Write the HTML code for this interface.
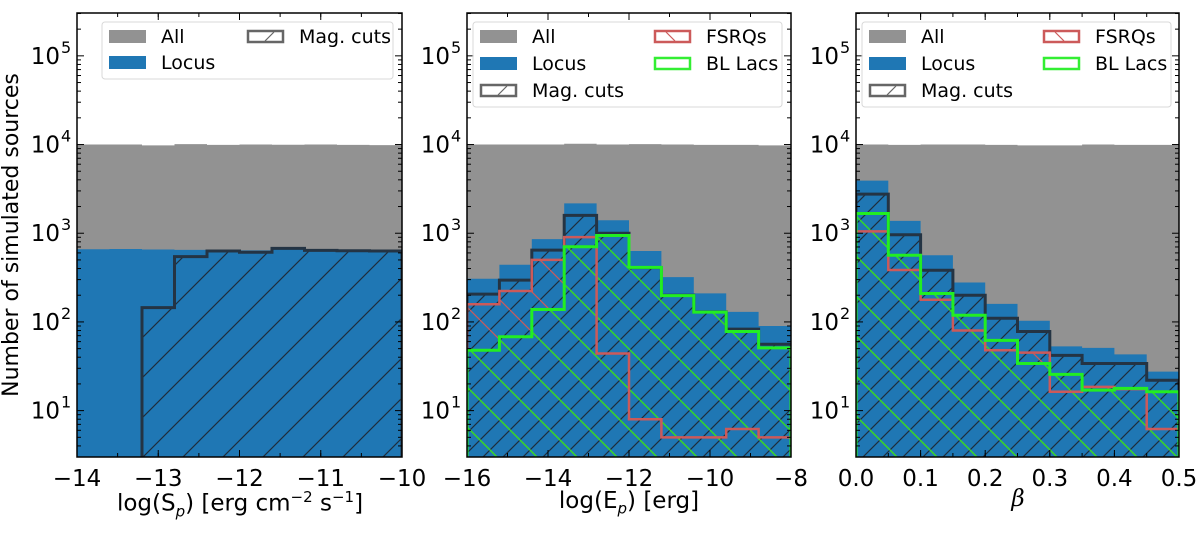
<!DOCTYPE html>
<html><head><meta charset="utf-8">
<style>
html,body{margin:0;padding:0;background:#fff;}
svg{display:block;font-family:"DejaVu Sans","Liberation Sans",sans-serif;}
.xt{position:absolute;width:400px;text-align:center;white-space:nowrap;font-size:23px;}
</style></head>
<body>
<svg id="chart" width="1200" height="536" viewBox="0 0 1200 536" xmlns="http://www.w3.org/2000/svg">
<defs>
  <pattern id="hatchFwd40" patternUnits="userSpaceOnUse" width="40" height="40">
    <path d="M-10,10 L10,-10 M0,40 L40,0 M30,50 L50,30" stroke="#1e2d3c" stroke-width="1.2"/>
  </pattern>
  <pattern id="hatchFwd20" patternUnits="userSpaceOnUse" width="20" height="20">
    <path d="M-5,5 L5,-5 M0,20 L20,0 M15,25 L25,15" stroke="#1e2d3c" stroke-width="1.2"/>
  </pattern>
  <pattern id="hatchBackRed" patternUnits="userSpaceOnUse" width="40" height="40">
    <path d="M-10,30 L10,50 M0,0 L40,40 M30,-10 L50,10" stroke="#cc5a5a" stroke-width="1.2"/>
  </pattern>
  <pattern id="hatchBackGreen" patternUnits="userSpaceOnUse" width="40" height="40">
    <path d="M-10,30 L10,50 M0,0 L40,40 M30,-10 L50,10" stroke="#33dd22" stroke-width="1.4"/>
  </pattern>
</defs>
</svg>
<script>
// ---- Panel 1 data: log(Sp) ----
const p1Edges = [-14,-13.6,-13.2,-12.8,-12.4,-12,-11.6,-11.2,-10.8,-10.4,-10];
const p1All =   [10000,10000,9800,10100,9900,10000,9950,10000,9900,9850];
const p1Locus = [660,665,655,650,640,640,680,650,645,640];
const p1Mag =   [0,0,145,545,630,610,675,640,635,630];

// ---- Panel 2 data: log(Ep) ----
const p2Edges = [-16,-15.2,-14.4,-13.6,-12.8,-12,-11.2,-10.4,-9.6,-8.8,-8];
const p2All =   [10000,10000,10000,10200,10000,10100,10000,9900,9900,9800];
const p2Locus = [307,441,859,2170,1400,630,320,210,130,90];
const p2Mag =   [206,296,646,1590,1000,410,200,130,83,56];
const p2Fsrq =  [158,223,500,903,44,8,5,5,6.2,5];
const p2Bllac = [48,68,138,705,942,412,198,129,78,51];

// ---- Panel 3 data: beta ----
const p3Edges = [0,0.05,0.1,0.15,0.2,0.25,0.3,0.35,0.4,0.45,0.5];
const p3All =   [10000,9900,10000,10000,9900,9800,9800,10000,9900,9900];
const p3Locus = [3920,1380,565,278,160,103,53,51,43,27.5];
const p3Mag =   [2760,960,383,200,110,78,42,34,34,22];
const p3Fsrq =  [1050,385,178,80,48,45,16.3,18.5,17.5,6.2];
const p3Bllac = [1670,565,209,119,62,34,25.6,17,17.8,16.3];

const yTickExp = [1,2,3,4,5];
const p1XTicks = [-14,-13,-12,-11,-10];
const p2XTicks = [-16,-14,-12,-10,-8];
const p3XTicks = [0.0,0.1,0.2,0.3,0.4,0.5];

const NS = 'http://www.w3.org/2000/svg';
const svg = document.getElementById('chart');
function mk(tag, attrs, parent){
  const e = document.createElementNS(NS, tag);
  for (const k in attrs) e.setAttribute(k, attrs[k]);
  (parent||svg).appendChild(e);
  return e;
}
const TOP=13, BOT=457;
const LOGMIN = Math.log10(3), LOGMAX = 5.483;
function yScale(v){ const l=Math.log10(Math.max(v,1e-3)); return BOT - (l-LOGMIN)/(LOGMAX-LOGMIN)*(BOT-TOP); }

function stepPath(edges, vals, xs, closed){
  let d='';
  const base = BOT+5;
  for(let i=0;i<vals.length;i++){
    const x0=xs(edges[i]), x1=xs(edges[i+1]);
    const y = vals[i]>0 ? yScale(vals[i]) : base;
    if(i===0) d += 'M'+x0+','+(closed?base:y)+' L'+x0+','+y;
    else d += ' L'+x0+','+y;
    d += ' L'+x1+','+y;
  }
  if(closed) d += ' L'+xs(edges[edges.length-1])+','+base+' Z';
  return d;
}

function panel(id, L, R, edges, xTicks, xMinorStep, xFmt, series){
  const g = mk('g', {});
  
  
  const xmin=edges[0], xmax=edges[edges.length-1];
  const xs = v => L + (v-xmin)/(xmax-xmin)*(R-L);
  const cid = id+'-clip';
  const cp = mk('clipPath', {id:cid}, g);
  mk('rect', {x:L, y:TOP, width:R-L, height:BOT-TOP}, cp);
  const plot = mk('g', {'clip-path':'url(#'+cid+')'}, g);
  
  
  const pa = mk('path', {d:stepPath(edges, series.all, xs, true), fill:'#929292'}, plot);
  
  
  const pl = mk('path', {d:stepPath(edges, series.locus, xs, true), fill:'#1f77b4'}, plot);
  
  
  const ph = mk('path', {d:stepPath(edges, series.mag, xs, true), fill:'url(#'+series.magHatch+')'}, plot);
  
  
  if(series.fsrq){
    const pr = mk('path', {d:stepPath(edges, series.fsrq, xs, true), fill:'url(#hatchBackRed)'}, plot);
    
    
    const pg = mk('path', {d:stepPath(edges, series.bllac, xs, true), fill:'url(#hatchBackGreen)'}, plot);
    
    
  }
  const po = mk('path', {d:stepPath(edges, series.mag, xs, true), fill:'none', stroke:'#243444', 'stroke-width':3}, plot);
  
  
  if(series.fsrq){
    const ro = mk('path', {d:stepPath(edges, series.fsrq, xs, true), fill:'none', stroke:'#cc5a5a', 'stroke-width':2.5}, plot);
    
    
    const go = mk('path', {d:stepPath(edges, series.bllac, xs, true), fill:'none', stroke:'#22ee22', 'stroke-width':3}, plot);
    
    
  }
  for(let e=0;e<=5;e++){
    for(let m=1;m<10;m++){
      const v=m*Math.pow(10,e);
      const y=yScale(v);
      if(y<TOP-0.5||y>BOT+0.5) continue;
      const len = m===1?7:4;
      mk('line',{x1:L,x2:L+len,y1:y,y2:y,stroke:'#000','stroke-width':1},g);
      mk('line',{x1:R,x2:R-len,y1:y,y2:y,stroke:'#000','stroke-width':1},g);
    }
  }
  yTickExp.forEach(e=>{
    const y=yScale(Math.pow(10,e));
    const t=mk('text',{x:L-17,y:y+8,'font-size':23,'text-anchor':'end',fill:'#000'},g);
    t.textContent='10';
    
    
    const s=mk('text',{x:L-16,y:y-3,'font-size':16,'text-anchor':'start',fill:'#000'},g);
    s.textContent=String(e);
  });
  const nMin = Math.round((xmax-xmin)/xMinorStep);
  for(let i=0;i<=nMin;i++){
    const x=xs(xmin+i*xMinorStep);
    mk('line',{x1:x,x2:x,y1:BOT,y2:BOT-4,stroke:'#000','stroke-width':1},g);
    mk('line',{x1:x,x2:x,y1:TOP,y2:TOP+4,stroke:'#000','stroke-width':1},g);
  }
  xTicks.forEach(v=>{
    const x=xs(v);
    mk('line',{x1:x,x2:x,y1:BOT,y2:BOT-7,stroke:'#000','stroke-width':1},g);
    mk('line',{x1:x,x2:x,y1:TOP,y2:TOP+7,stroke:'#000','stroke-width':1},g);
    const t=mk('text',{x:x,y:BOT+29,'font-size':23,'text-anchor':'middle',fill:'#000'},g);
    t.textContent=xFmt(v);
    
    
  });
  const fr = mk('rect',{x:L,y:TOP,width:R-L,height:BOT-TOP,fill:'none',stroke:'#000','stroke-width':1.5},g);
  
  
  return g;
}
const fmtNeg = v => (v<0?'\u2212':'')+Math.abs(v);
panel('panel-sp', 77, 402, p1Edges, p1XTicks, 0.5, fmtNeg, {all:p1All,locus:p1Locus,mag:p1Mag,magHatch:'hatchFwd40'});
panel('panel-ep', 467, 791, p2Edges, p2XTicks, 1, fmtNeg, {all:p2All,locus:p2Locus,mag:p2Mag,magHatch:'hatchFwd20',fsrq:p2Fsrq,bllac:p2Bllac});
panel('panel-beta', 856, 1179, p3Edges, p3XTicks, 0.05, v=>v.toFixed(1), {all:p3All,locus:p3Locus,mag:p3Mag,magHatch:'hatchFwd20',fsrq:p3Fsrq,bllac:p3Bllac});

function legend(name, x, y, w, h, entries){
  const g=mk('g',{});
  
  
  mk('rect',{x:x,y:y,width:w,height:h,rx:3,fill:'#fff','fill-opacity':0.85,stroke:'#d8d8d8','stroke-width':1},g);
  entries.forEach(en=>{
    const eg=mk('g',{},g);
    
    
    if(en.type==='fill') mk('rect',{x:en.x,y:en.y-6,width:37,height:13,fill:en.color},eg);
    else {
      mk('rect',{x:en.x+1,y:en.y-5,width:35,height:11,fill:'#fff',stroke:en.color,'stroke-width':2.5},eg);
      if(en.diag==='/') mk('line',{x1:en.x+18,y1:en.y+5,x2:en.x+27,y2:en.y-4,stroke:en.color,'stroke-width':1.2},eg);
      if(en.diag==='\\') mk('line',{x1:en.x+12,y1:en.y-4,x2:en.x+21,y2:en.y+5,stroke:en.color,'stroke-width':1.2},eg);
    }
    const t=mk('text',{x:en.x+52,y:en.y+7,'font-size':19,fill:'#000'},eg);
    t.textContent=en.label;
  });
}
legend('legend-panel-sp',102,22,291,57,[
  {key:'all',type:'fill',color:'#929292',x:109,y:36,label:'All'},
  {key:'locus',type:'fill',color:'#1f77b4',x:109,y:62,label:'Locus'},
  {key:'mag-cuts',type:'box',color:'#666',diag:'/',x:247,y:36,label:'Mag. cuts'}
]);
legend('legend-panel-ep',473,22,309,85,[
  {key:'all',type:'fill',color:'#929292',x:480,y:36,label:'All'},
  {key:'locus',type:'fill',color:'#1f77b4',x:480,y:63,label:'Locus'},
  {key:'mag-cuts',type:'box',color:'#666',diag:'/',x:480,y:90,label:'Mag. cuts'},
  {key:'fsrqs',type:'box',color:'#cc5a5a',diag:'\\',x:654,y:36,label:'FSRQs'},
  {key:'bl-lacs',type:'box',color:'#33ee33',diag:'',x:654,y:63,label:'BL Lacs'}
]);
legend('legend-panel-beta',862,22,309,85,[
  {key:'all',type:'fill',color:'#929292',x:869,y:36,label:'All'},
  {key:'locus',type:'fill',color:'#1f77b4',x:869,y:63,label:'Locus'},
  {key:'mag-cuts',type:'box',color:'#666',diag:'/',x:869,y:90,label:'Mag. cuts'},
  {key:'fsrqs',type:'box',color:'#cc5a5a',diag:'\\',x:1043,y:36,label:'FSRQs'},
  {key:'bl-lacs',type:'box',color:'#33ee33',diag:'',x:1043,y:63,label:'BL Lacs'}
]);
</script>
<div style="position:absolute;left:0;top:0;width:1200px;height:536px;pointer-events:none;font-family:'DejaVu Sans','Liberation Sans',sans-serif;color:#000;">
  <div style="position:absolute;left:12px;top:235px;width:0;height:0;">
    <div style="position:absolute;left:-250px;top:-14px;width:500px;height:28px;line-height:28px;text-align:center;transform:rotate(-90deg);white-space:nowrap;font-size:22px;">Number of simulated sources</div>
  </div>
  <div class="xt" style="left:40px;top:488px;">log(S<sub style="font-style:italic;font-size:15px;">p</sub>) [erg cm<sup style="font-size:15px;">−2</sup> s<sup style="font-size:15px;">−1</sup>]</div>
  <div class="xt" style="left:429px;top:488px;">log(E<sub style="font-style:italic;font-size:15px;">p</sub>) [erg]</div>
  <div class="xt" style="left:818px;top:486px;font-style:italic;font-family:'DejaVu Serif','Liberation Serif',serif;">β</div>
</div>
</body></html>
